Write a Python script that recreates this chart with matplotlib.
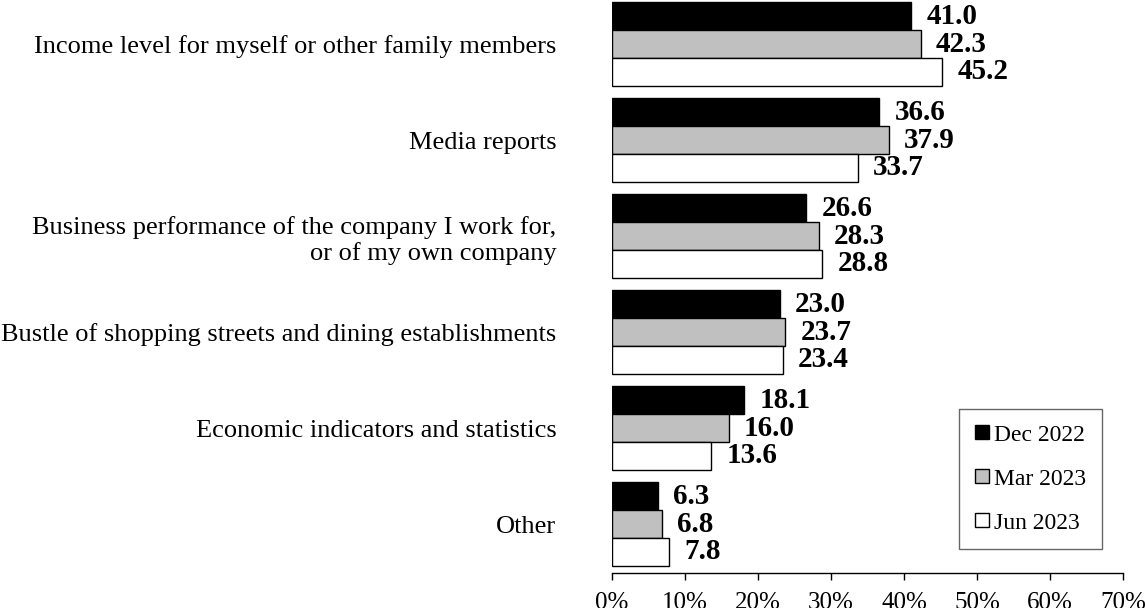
import matplotlib
matplotlib.use("Agg")
import matplotlib.pyplot as plt
from matplotlib.lines import Line2D
import numpy as np

plt.rcParams['font.family'] = ['Liberation Serif', 'DejaVu Serif']

categories = [
    "Income level for myself or other family members",
    "Media reports",
    "Business performance of the company I work for,\nor of my own company",
    "Bustle of shopping streets and dining establishments",
    "Economic indicators and statistics",
    "Other",
]
series_names = ["Dec 2022", "Mar 2023", "Jun 2023"]
dec_2022 = [41.0, 36.6, 26.6, 23.0, 18.1, 6.3]
mar_2023 = [42.3, 37.9, 28.3, 23.7, 16.0, 6.8]
jun_2023 = [45.2, 33.7, 28.8, 23.4, 13.6, 7.8]
colors = ["#000000", "#c0c0c0", "#ffffff"]
xticks = [0, 10, 20, 30, 40, 50, 60, 70]

fig = plt.figure(figsize=(11.45, 6.08), dpi=100)
ax = fig.add_axes([0.5345, 0.0576, 0.4463, 0.9424])

y = np.arange(len(categories))
h = 0.29
for k, (vals, c) in enumerate(zip([dec_2022, mar_2023, jun_2023], colors)):
    pos = y + (k - 1) * h
    ax.barh(pos, vals, height=h, color=c, edgecolor="black", linewidth=1.0)
    for p, v in zip(pos, vals):
        ax.annotate(f"{v:.1f}", xy=(v, p), xytext=(11, 0),
                    textcoords="offset points", va="center", ha="left",
                    fontsize=21, fontweight="bold")

ax.set_xlim(0, 70)
ax.set_ylim(5.51, -0.46)
ax.set_xticks(xticks)
ax.set_xticklabels([f"{t}%" for t in xticks], fontsize=18)
ax.set_yticks(y)
ax.set_yticklabels(categories, fontsize=19, linespacing=1.2)
ax.tick_params(axis="y", length=0, pad=40)
ax.tick_params(axis="x", length=5, width=1, pad=9)
for s in ["left", "right", "top"]:
    ax.spines[s].set_visible(False)
ax.spines["bottom"].set_linewidth(1)

handles = [Line2D([], [], marker="s", linestyle="none", markersize=10,
                  markerfacecolor=c, markeredgecolor="black", markeredgewidth=1)
           for c in colors]
leg = ax.legend(handles, series_names, loc="lower right",
                bbox_to_anchor=(0.958, 0.042), fontsize=17, frameon=True,
                fancybox=False, edgecolor="#404040", labelspacing=0.95,
                handlelength=0.7, handletextpad=0.15, borderpad=0.65,
                borderaxespad=0)
leg.get_frame().set_linewidth(1)

fig.savefig("out.png", dpi=100)
